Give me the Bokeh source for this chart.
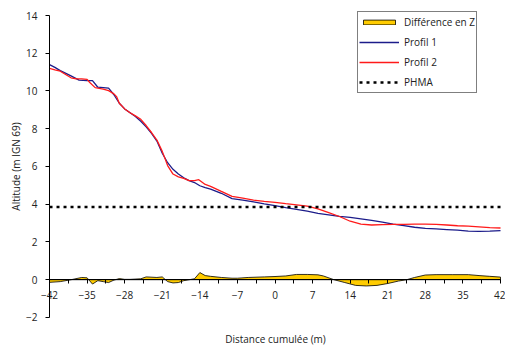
import math
from bokeh.plotting import figure
from bokeh.models import Range1d, FixedTicker, Label, Legend, LegendItem
from bokeh.embed import file_html
from bokeh.resources import INLINE

# ---- data ----
x_p1 = [-42, -41, -40, -38, -36.5, -35, -34, -33, -32, -31, -30, -29, -28, -27, -26, -25, -24, -23,
        -22, -21, -20, -19, -18, -17, -16, -15, -14, -13, -12, -10, -8, -6, -4, -2, 0, 2, 4, 6, 8,
        10, 12, 14, 16, 18, 20, 22, 24, 26, 28, 30, 32, 34, 36, 38, 40, 42]
profil1 = [11.40, 11.25, 11.08, 10.80, 10.58, 10.55, 10.55, 10.20, 10.18, 10.15, 9.80, 9.35, 9.05,
           8.85, 8.65, 8.40, 8.10, 7.75, 7.35, 6.70, 6.20, 5.85, 5.60, 5.40, 5.25, 5.15, 4.98, 4.88,
           4.80, 4.58, 4.30, 4.22, 4.12, 4.02, 3.93, 3.82, 3.73, 3.63, 3.52, 3.44, 3.36, 3.30, 3.22,
           3.14, 3.05, 2.95, 2.87, 2.78, 2.72, 2.69, 2.66, 2.63, 2.58, 2.56, 2.57, 2.60]

x_p2 = [-42, -41, -40, -38, -37, -36, -35, -34.5, -33.5, -32, -31, -30, -29.5, -29, -28, -27, -26,
        -25, -24, -23, -22, -21, -20, -19, -18, -17, -16, -15, -14.2, -13, -12, -10, -8, -6, -4, -2,
        0, 2, 4, 6, 8, 10, 12, 14, 16, 18, 20, 22, 24, 26, 28, 30, 32, 34, 36, 38, 40, 42]
profil2 = [11.20, 11.12, 11.05, 10.70, 10.64, 10.64, 10.62, 10.45, 10.18, 10.10, 10.02, 9.85, 9.70,
           9.35, 9.05, 8.85, 8.68, 8.50, 8.17, 7.80, 7.40, 6.80, 6.05, 5.60, 5.45, 5.37, 5.25, 5.25,
           5.30, 5.05, 4.95, 4.68, 4.42, 4.32, 4.22, 4.15, 4.10, 4.03, 3.97, 3.90, 3.75, 3.55, 3.35,
           3.10, 2.95, 2.90, 2.92, 2.93, 2.93, 2.95, 2.95, 2.93, 2.90, 2.86, 2.84, 2.80, 2.76, 2.74]

x_diff = [-42, -40, -38, -36, -35, -34, -33, -32, -31, -30, -29, -28, -27, -25, -24, -22, -21, -20,
          -19, -18, -17, -15, -14, -13, -12, -10, -8, -7, -5, -2, 0, 2, 4, 6, 8, 9, 11, 13, 15, 17,
          19, 21, 23, 24.5, 26, 28, 30, 33, 36, 38, 40, 42]
diff_z = [-0.14, -0.10, 0.00, 0.12, 0.10, -0.23, -0.05, -0.10, -0.15, -0.02, 0.06, 0.02, 0.02, 0.05,
          0.15, 0.12, 0.15, -0.10, -0.17, -0.15, -0.05, 0.05, 0.38, 0.22, 0.18, 0.12, 0.08, 0.08,
          0.12, 0.15, 0.17, 0.20, 0.28, 0.28, 0.26, 0.20, 0.00, -0.15, -0.30, -0.33, -0.30, -0.20,
          -0.07, 0.00, 0.12, 0.25, 0.27, 0.27, 0.27, 0.22, 0.18, 0.14]

phma_x = [-42, 42]
phma_y = [3.85, 3.85]

x_ticks = [-42, -35, -28, -21, -14, -7, 0, 7, 14, 21, 28, 35, 42]
x_minor = [-38.5, -31.5, -24.5, -17.5, -10.5, -3.5, 3.5, 10.5, 17.5, 24.5, 31.5, 38.5]
y_ticks = [-2, 0, 2, 4, 6, 8, 10, 12, 14]

FONT = "Open Sans"
TXT = "#222222"
W, H = 505, 345

p = figure(width=W, height=H, output_backend="svg", toolbar_location=None,
           x_range=Range1d(-51.13, 42.93), y_range=Range1d(-3.485, 14.795),
           min_border_left=0, min_border_right=0, min_border_top=0, min_border_bottom=0)
p.outline_line_color = None
p.grid.visible = False
p.background_fill_color = "white"
p.border_fill_color = "white"

# difference area as a closed patch
patch_x = list(x_diff) + list(reversed(x_diff))
patch_y = list(diff_z) + [0] * len(x_diff)
r_diff = p.patch(patch_x, patch_y, fill_color="#FFCC00", line_color="#000000", line_width=0.8)
r_p1 = p.line(x_p1, profil1, line_color="#1c1c8a", line_width=1.3)
r_p2 = p.line(x_p2, profil2, line_color="#ff1a1a", line_width=1.3)
r_phma = p.line(phma_x, phma_y, line_color="black", line_width=2.5, line_dash="3 4")

# axes
xa = p.xaxis[0]
xa.fixed_location = 0
xa.bounds = (-42, 42)
xa.ticker = FixedTicker(ticks=x_ticks, minor_ticks=x_minor)
xa.major_tick_in = 0
xa.major_tick_out = 4
xa.minor_tick_in = 0
xa.minor_tick_out = 4
xa.major_label_standoff = 7
xa.major_label_text_font = FONT
xa.major_label_text_font_size = "10px"
xa.major_label_text_color = TXT
xa.axis_line_color = "black"
xa.major_tick_line_color = "black"
xa.minor_tick_line_color = "black"

ya = p.yaxis[0]
ya.fixed_location = -42
ya.bounds = (-2, 14)
ya.ticker = FixedTicker(ticks=y_ticks)
ya.minor_tick_line_color = None
ya.major_tick_in = 0
ya.major_tick_out = 4
ya.major_label_standoff = 8
ya.major_label_text_font = FONT
ya.major_label_text_font_size = "10px"
ya.major_label_text_color = TXT

p.add_layout(Label(x=15, y=H - 166, x_units="screen", y_units="screen", angle=math.pi / 2,
                   text="Altitude (m IGN 69)", text_font=FONT, text_font_size="10px",
                   text_align="center", text_baseline="middle", text_color=TXT))
p.add_layout(Label(x=275, y=H - 338, x_units="screen", y_units="screen",
                   text="Distance cumulée (m)", text_font=FONT, text_font_size="10px",
                   text_align="center", text_baseline="middle", text_color=TXT))

legend = Legend(items=[
    LegendItem(label="Différence en Z", renderers=[r_diff]),
    LegendItem(label="Profil 1", renderers=[r_p1]),
    LegendItem(label="Profil 2", renderers=[r_p2]),
    LegendItem(label="PHMA", renderers=[r_phma]),
], location=(357, H - 93))
legend.label_text_font = FONT
legend.label_text_font_size = "10px"
legend.label_text_color = TXT
legend.glyph_width = 40
legend.glyph_height = 6
legend.label_height = 18
legend.label_standoff = 5
legend.spacing = 2
legend.padding = 1
legend.margin = 0
legend.border_line_color = "black"
legend.border_line_width = 1
legend.background_fill_alpha = 1
p.add_layout(legend)

open("out.html", "w").write(file_html(p, INLINE))
